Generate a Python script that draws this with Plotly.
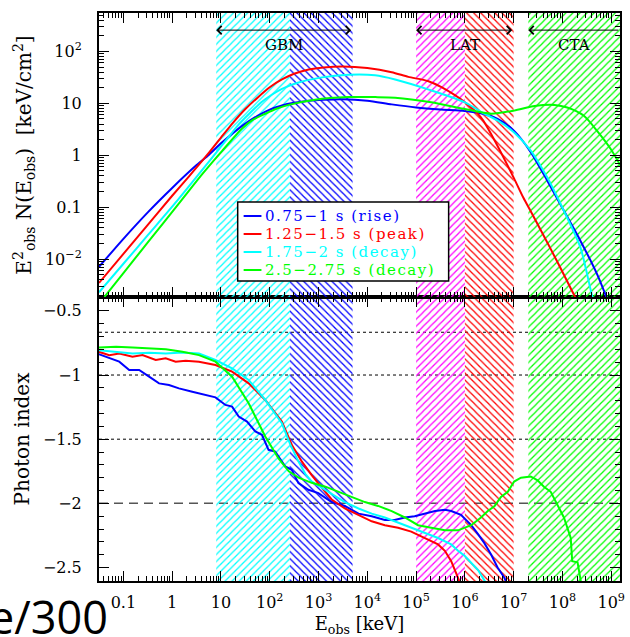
import math
import plotly.graph_objects as go

# ---------------- data ----------------
# Upper panel: log10(E_obs [keV]) and log10(E^2 N(E) [keV/cm^2])
blue_top_logE = [-1.5, -1.0, -0.5, 0.0, 0.5, 0.755, 1.0, 1.25, 1.5, 1.75, 2.0, 2.25, 2.5, 2.8, 3.1, 3.5,
                 4.0, 4.5, 5.0, 5.5, 6.0, 6.4, 6.67, 7.01, 7.35, 7.69, 8.03, 8.37, 8.71, 8.95]
blue_top_logF = [-2.15, -1.61, -1.10, -0.63, -0.19, 0.01, 0.23, 0.43, 0.61, 0.76, 0.88, 0.96, 1.01, 1.05, 1.07, 1.08,
                 1.05, 0.98, 0.92, 0.88, 0.85, 0.79, 0.70, 0.47, 0.06, -0.49, -1.07, -1.65, -2.29, -2.85]

red_top_logE = [-1.5, -1.0, -0.5, 0.0, 0.35, 0.755, 1.0, 1.25, 1.5, 1.75, 2.0, 2.25, 2.5, 2.8, 3.1, 3.5,
                4.0, 4.5, 4.84, 5.24, 5.52, 6.0, 6.33, 6.67, 7.01, 7.2, 7.35, 7.6, 7.9, 8.2, 8.3]
red_top_logF = [-2.46, -1.90, -1.34, -0.78, -0.40, 0.05, 0.34, 0.63, 0.89, 1.11, 1.31, 1.46, 1.57, 1.65, 1.69, 1.71,
                1.68, 1.60, 1.51, 1.43, 1.31, 1.02, 0.73, 0.18, -0.45, -0.82, -1.08, -1.52, -2.06, -2.62, -2.80]

cyan_top_logE = [-1.5, -1.0, -0.5, 0.10, 0.55, 0.96, 1.37, 1.6, 1.84, 2.05, 2.25, 2.59, 3.07, 3.61, 4.16, 4.57,
                 5.31, 6.0, 6.4, 6.67, 7.01, 7.35, 7.69, 8.03, 8.37, 8.61, 8.7]
cyan_top_logF = [-2.64, -2.09, -1.54, -0.88, -0.36, 0.12, 0.60, 0.82, 1.03, 1.17, 1.28, 1.40, 1.50, 1.55, 1.54, 1.46,
                 1.25, 1.02, 0.80, 0.67, 0.44, 0.09, -0.43, -1.07, -1.78, -2.71, -2.95]

green_top_logE = [-1.5, -1.0, -0.5, 0.18, 0.62, 1.03, 1.43, 1.65, 1.91, 2.15, 2.39, 2.93, 3.61, 4.16, 4.57, 5.31,
                  6.0, 6.54, 7.01, 7.43, 7.84, 8.10, 8.44, 8.71, 8.99, 9.25]
green_top_logF = [-2.86, -2.27, -1.68, -0.88, -0.36, 0.09, 0.51, 0.68, 0.80, 0.90, 0.97, 1.07, 1.12, 1.12, 1.11, 1.02,
                  0.89, 0.80, 0.86, 0.95, 0.97, 0.92, 0.76, 0.47, 0.12, -0.30]

# Lower panel: log10(E_obs [keV]) and photon index
blue_bot_logE = [-1.507, -1.357, -1.085, -0.881, -0.677, -0.473, -0.269, -0.065, 0.139, 0.412, 0.684, 0.888, 1.092,
                 1.228, 1.364, 1.534, 1.704, 1.840, 1.976, 2.112, 2.316, 2.452, 2.588, 2.793, 2.997, 3.27, 3.54,
                 3.82, 4.09, 4.36, 4.56, 4.77, 4.97, 5.18, 5.39, 5.59, 5.72, 5.92, 6.13, 6.27, 6.40, 6.54, 6.67,
                 6.81, 6.9]
blue_bot_idx = [-0.837, -0.858, -0.896, -0.961, -0.961, -1.013, -1.065, -1.078, -1.104, -1.130, -1.155, -1.174,
                -1.233, -1.246, -1.324, -1.363, -1.440, -1.466, -1.583, -1.596, -1.712, -1.738, -1.842, -1.894,
                -1.920, -1.99, -2.02, -2.08, -2.10, -2.13, -2.13, -2.11, -2.10, -2.08, -2.06, -2.05, -2.06, -2.09,
                -2.17, -2.24, -2.31, -2.40, -2.50, -2.58, -2.66]

red_bot_logE = [-1.507, -1.289, -1.085, -0.813, -0.609, -0.337, -0.133, 0.071, 0.276, 0.548, 0.888, 1.228, 1.568,
                1.908, 2.248, 2.46, 2.66, 2.86, 3.07, 3.27, 3.54, 3.82, 4.09, 4.36, 4.63, 4.90, 5.18, 5.45, 5.59,
                5.72, 5.86, 5.92]
red_bot_idx = [-0.819, -0.845, -0.832, -0.858, -0.845, -0.883, -0.870, -0.896, -0.889, -0.896, -0.922, -0.974,
               -1.065, -1.194, -1.363, -1.55, -1.675, -1.78, -1.88, -1.97, -2.04, -2.09, -2.14, -2.17, -2.19, -2.22,
               -2.27, -2.32, -2.37, -2.45, -2.58, -2.66]

cyan_bot_logE = [-1.507, -1.15, -0.81, -0.47, -0.13, 0.21, 0.55, 0.888, 1.228, 1.568, 1.908, 2.248, 2.42, 2.59,
                 2.73, 2.86, 3.07, 3.27, 3.54, 3.82, 4.09, 4.36, 4.63, 4.90, 5.18, 5.45, 5.72, 5.86, 6.0, 6.13,
                 6.27, 6.40, 6.5]
cyan_bot_idx = [-0.806, -0.819, -0.832, -0.826, -0.832, -0.824, -0.832, -0.883, -0.948, -1.039, -1.194, -1.376,
                -1.54, -1.675, -1.77, -1.83, -1.88, -1.93, -1.99, -2.04, -2.08, -2.11, -2.15, -2.19, -2.23, -2.27,
                -2.32, -2.37, -2.41, -2.46, -2.52, -2.60, -2.66]

green_bot_logE = [-1.507, -1.15, -0.81, -0.47, -0.13, 0.21, 0.55, 0.888, 1.228, 1.568, 1.908, 2.18, 2.39, 2.59,
                  2.86, 3.14, 3.41, 3.68, 3.95, 4.22, 4.50, 4.77, 5.04, 5.31, 5.59, 5.86, 6.13, 6.33, 6.47, 6.61,
                  6.74, 6.88, 7.01, 7.15, 7.35, 7.49, 7.62, 7.76, 7.90, 8.03, 8.17, 8.20, 8.31, 8.37, 8.40]
green_bot_idx = [-0.785, -0.780, -0.785, -0.793, -0.800, -0.819, -0.845, -0.896, -1.013, -1.220, -1.479, -1.65,
                 -1.75, -1.80, -1.84, -1.87, -1.91, -1.95, -1.99, -2.02, -2.06, -2.11, -2.17, -2.19, -2.21, -2.21,
                 -2.17, -2.11, -2.06, -2.02, -1.95, -1.91, -1.83, -1.80, -1.79, -1.82, -1.87, -1.91, -2.02, -2.11,
                 -2.27, -2.45, -2.46, -2.58, -2.66]

series_names = ["0.75\u22121 s (rise)", "1.25\u22121.5 s (peak)", "1.75\u22122 s (decay)", "2.5\u22122.75 s (decay)"]
series_colors = ["#0000ff", "#ff0000", "#00ffff", "#00ff00"]

# Instrument energy bands [keV]
band_lo = [8.0, 260.0, 1e5, 1e6, 2e7]
band_hi = [260.0, 5e3, 1e6, 1e7, 1e10]
band_colors = ["#00ffff", "#0000ff", "#ff00ff", "#ff0000", "#00ff00"]
band_hatch = ["/", "\\", "/", "\\", "/"]

instr_names = ["GBM", "LAT", "CTA"]
instr_lo = [8.0, 1e5, 2e7]
instr_hi = [5e3, 1e7, 1.5e9]

idx_dotted = [-2.0 / 3.0, -1.0, -1.5]
idx_dashed = [-2.0]

# axis ticks
x_tickvals = [10.0 ** n for n in range(-1, 10)]
x_ticktext = ["0.1", "1", "10"] + ["10<sup>%d</sup>" % n for n in range(2, 10)]
y2_tickvals = [0.01, 0.1, 1, 10, 100]
y2_ticktext = ["10<sup>\u22122</sup>", "0.1", "1", "10", "10<sup>2</sup>"]
y_tickvals = [-2.5, -2.0, -1.5, -1.0, -0.5]
y_ticktext = ["\u22122.5", "\u22122", "\u22121.5", "\u22121", "\u22120.5"]

XLOG_RANGE = [-1.5, 9.18]
Y2LOG_RANGE = [-2.73, 2.74]
Y_RANGE = [-2.605, -0.392]

FONT = "DejaVu Serif"

fig = go.Figure()

# ---- hatched bands in both panels ----
for lo, hi, col, hatch in zip(band_lo, band_hi, band_colors, band_hatch):
    for xa, ya, ylo, yhi in (("x2", "y2", 1e-4, 1e4), ("x", "y", -3.0, 0.0)):
        fig.add_trace(go.Scatter(
            x=[lo, hi, hi, lo, lo], y=[ylo, ylo, yhi, yhi, ylo],
            xaxis=xa, yaxis=ya, mode="none", fill="toself",
            fillcolor="rgba(255,255,255,0)",
            fillpattern=dict(shape=hatch, fgcolor=col, bgcolor="rgba(255,255,255,0)",
                             size=5, solidity=0.25, fgopacity=1),
            showlegend=False, hoverinfo="skip"))

# ---- curves ----
tops = [(blue_top_logE, blue_top_logF), (red_top_logE, red_top_logF),
        (cyan_top_logE, cyan_top_logF), (green_top_logE, green_top_logF)]
bots = [(blue_bot_logE, blue_bot_idx), (red_bot_logE, red_bot_idx),
        (cyan_bot_logE, cyan_bot_idx), (green_bot_logE, green_bot_idx)]

for (le, lf), name, col in zip(tops, series_names, series_colors):
    fig.add_trace(go.Scatter(
        x=[10.0 ** v for v in le], y=[10.0 ** v for v in lf], xaxis="x2", yaxis="y2",
        mode="lines", line=dict(color=col, width=2, shape="spline", smoothing=0.7),
        name=name, showlegend=False))

for (le, ix), name, col in zip(bots, series_names, series_colors):
    fig.add_trace(go.Scatter(
        x=[10.0 ** v for v in le], y=ix, xaxis="x", yaxis="y",
        mode="lines", line=dict(color=col, width=2),
        name=name, showlegend=False))

# ---- reference lines in lower panel ----
shapes = []
for v in idx_dotted:
    shapes.append(dict(type="line", xref="x domain", yref="y", x0=0, x1=1, y0=v, y1=v,
                       line=dict(color="black", width=1, dash="dot"), layer="below"))
for v in idx_dashed:
    shapes.append(dict(type="line", xref="x domain", yref="y", x0=0, x1=1, y0=v, y1=v,
                       line=dict(color="#555555", width=1.5, dash="9px,6px"), layer="below"))

# ---- legend (boxed key in the upper panel) ----
LEG_X0, LEG_X1, LEG_Y0, LEG_Y1 = 0.2662, 0.6711, 0.5282, 0.6673
leg_rows = [0.6426, 0.6109, 0.5792, 0.5475]
shapes.append(dict(type="rect", xref="paper", yref="paper", x0=LEG_X0, x1=LEG_X1, y0=LEG_Y0, y1=LEG_Y1,
                   line=dict(color="black", width=1.5), fillcolor="white", layer="above"))
annotations = []
for yrow, name, col in zip(leg_rows, series_names, series_colors):
    shapes.append(dict(type="line", xref="paper", yref="paper", x0=0.2776, x1=0.3118, y0=yrow, y1=yrow,
                       line=dict(color=col, width=2), layer="above"))
    annotations.append(dict(x=0.3175, y=yrow, xref="paper", yref="paper", xanchor="left", yanchor="middle",
                            text='<span style="letter-spacing:1.5px">%s</span>' % name,
                            showarrow=False, borderpad=0,
                            font=dict(family=FONT, size=15, color=col)))

# ---- instrument arrows and labels ----
arrow_y = 2.41
label_y = 2.13
for nm, lo, hi in zip(instr_names, instr_lo, instr_hi):
    a = math.log10(lo)
    b = min(math.log10(hi), XLOG_RANGE[1])
    both = nm != "CTA"
    annotations.append(dict(
        x=a, y=arrow_y, ax=b, ay=arrow_y, xref="x2", yref="y2", axref="x2", ayref="y2",
        text="", showarrow=True, arrowhead=4, startarrowhead=4, arrowsize=1.6, startarrowsize=1.6,
        arrowwidth=1, arrowcolor="black", arrowside="end+start" if both else "end"))
    annotations.append(dict(
        x=(a + b) / 2.0, y=label_y, xref="x2", yref="y2", text=nm, showarrow=False,
        font=dict(family=FONT, size=15, color="black")))

# stray text at bottom-left of the reference crop
annotations.append(dict(x=0.0209, y=-0.119, xref="paper", yref="paper", xanchor="right", yanchor="bottom",
                        text="e/300", showarrow=False,
                        font=dict(family="Open Sans", size=45, color="black")))

axis_common = dict(showline=True, linecolor="black", linewidth=2, mirror="allticks",
                   ticks="inside", ticklen=10, tickwidth=1, tickcolor="black",
                   showgrid=False, zeroline=False,
                   tickfont=dict(family=FONT, size=16, color="black"))

x_minor = [k * 10.0 ** n for n in range(-2, 10) for k in range(2, 10)]
y2_minor = [k * 10.0 ** n for n in range(-4, 3) for k in range(2, 10)]

fig.update_layout(
    width=630, height=637,
    margin=dict(l=99, r=5, t=13, b=56),
    paper_bgcolor="white", plot_bgcolor="white",
    font=dict(family=FONT, color="black"),
    showlegend=False,
    xaxis=dict(type="log", range=XLOG_RANGE, anchor="y", domain=[0, 1],
               tickmode="array", tickvals=x_tickvals, ticktext=x_ticktext,
               ticklabelstandoff=6,
               minor=dict(tickmode="array", tickvals=x_minor, ticks="inside", ticklen=5,
                          tickwidth=1, tickcolor="black", showgrid=False),
               title=dict(text="E<sub>obs</sub> [keV]", font=dict(family=FONT, size=18), standoff=6),
               **axis_common),
    yaxis=dict(range=Y_RANGE, anchor="x", domain=[0, 0.5],
               tickmode="array", tickvals=y_tickvals, ticktext=y_ticktext,
               ticklabelstandoff=12,
               minor=dict(tickmode="linear", tick0=0, dtick=0.1, ticks="inside", ticklen=5,
                          tickwidth=1, tickcolor="black", showgrid=False),
               title=dict(text="Photon index", font=dict(family=FONT, size=20), standoff=8),
               **axis_common),
    xaxis2=dict(type="log", range=XLOG_RANGE, anchor="y2", matches="x", domain=[0, 1],
                tickmode="array", tickvals=x_tickvals, ticktext=x_ticktext, showticklabels=False,
                minor=dict(tickmode="array", tickvals=x_minor, ticks="inside", ticklen=5,
                           tickwidth=1, tickcolor="black", showgrid=False),
                **axis_common),
    yaxis2=dict(type="log", range=Y2LOG_RANGE, anchor="x2", domain=[0.5, 1],
                tickmode="array", tickvals=y2_tickvals, ticktext=y2_ticktext,
                ticklabelstandoff=12,
                minor=dict(tickmode="array", tickvals=y2_minor, ticks="inside", ticklen=5,
                           tickwidth=1, tickcolor="black", showgrid=False),
                title=dict(text="E<sup>2</sup><sub>obs</sub> N(E<sub>obs</sub>)  [keV/cm<sup>2</sup>]",
                           font=dict(family=FONT, size=20), standoff=8),
                **axis_common),
    shapes=shapes,
    annotations=annotations,
)

fig.write_html("out.html", config={"displayModeBar": False},
               post_script="document.body.style.margin='0px';")
